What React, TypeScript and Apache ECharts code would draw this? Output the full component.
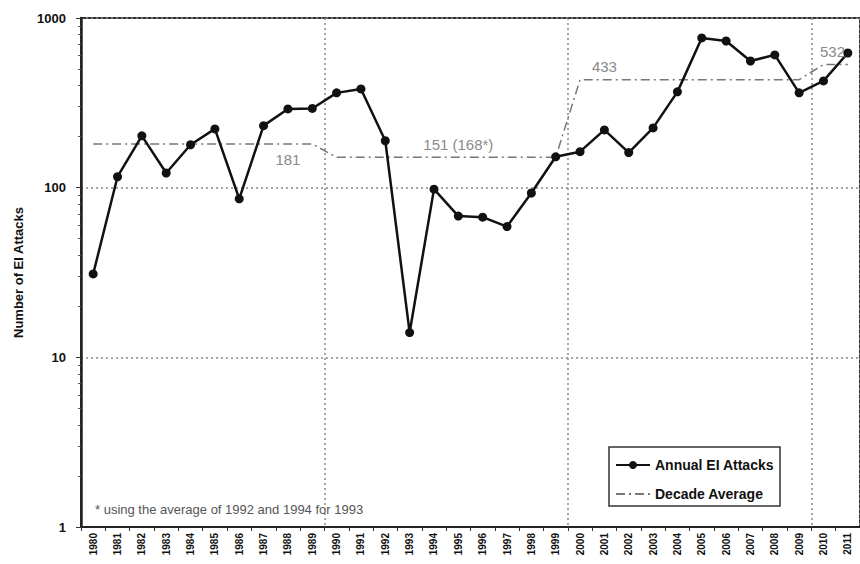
import React, { useEffect, useRef } from 'react';
import * as echarts from 'echarts';

const years = [
  '1980', '1981', '1982', '1983', '1984', '1985', '1986', '1987', '1988', '1989',
  '1990', '1991', '1992', '1993', '1994', '1995', '1996', '1997', '1998', '1999',
  '2000', '2001', '2002', '2003', '2004', '2005', '2006', '2007', '2008', '2009',
  '2010', '2011',
];
const annualAttacks = [
  31, 116, 202, 122, 179, 222, 86, 232, 291, 293,
  362, 382, 189, 14, 98, 68, 67, 59, 93, 152,
  163, 219, 161, 225, 367, 763, 732, 558, 606, 362,
  426, 622,
];
const decadeStartYears = [1980, 1990, 2000, 2010];
const decadeAverages = [181, 151, 433, 532];
const decadeLabelTexts = ['181', '151 (168*)', '433', '532'];
const decadeLabelYears = ['1988', '1995', '2001', '2010'];
const footnote = '* using the average of 1992 and 1994 for 1993';

const FONT = '"Liberation Sans", Arial, Helvetica, sans-serif';

export default function App() {
  const ref = useRef<HTMLDivElement>(null);
  useEffect(() => {
    const chart = echarts.init(ref.current!, null, { renderer: 'svg' });
    const decadeData = years.map((y) => {
      const yr = Number(y);
      let idx = 0;
      decadeStartYears.forEach((s, i) => {
        if (yr >= s) idx = i;
      });
      return decadeAverages[idx];
    });
    const labelPoints = decadeLabelTexts.map((t, li) => {
      const below = li === 0;
      return {
        coord: [decadeLabelYears[li], decadeAverages[li]],
        symbol: 'circle',
        symbolSize: 1,
        itemStyle: { color: 'rgba(0,0,0,0)' },
        label: {
          show: true,
          formatter: t,
          position: below ? 'bottom' : 'top',
          distance: below ? 8 : 5,
          offset: li === 3 ? [9, 0] : [0, 0],
          color: '#8a8a8a',
          fontSize: 15,
          fontFamily: FONT,
        },
      };
    });

    chart.setOption({
      animation: false,
      textStyle: { fontFamily: FONT },
      grid: {
        left: 81,
        top: 18,
        width: 783,
        height: 509,
        show: true,
        borderColor: '#333',
        borderWidth: 2,
        backgroundColor: 'transparent',
      },
      legend: {
        left: 609,
        top: 447,
        orient: 'vertical',
        padding: [11, 6, 5, 6],
        itemGap: 15,
        itemWidth: 34,
        itemHeight: 10,
        borderColor: '#333',
        borderWidth: 1.5,
        backgroundColor: '#fff',
        textStyle: { fontSize: 14, fontWeight: 'bold', color: '#111', fontFamily: FONT },
        data: [
          { name: 'Annual EI Attacks' },
          { name: 'Decade Average', itemStyle: { opacity: 0 } },
        ],
      },
      graphic: [
        {
          type: 'text',
          left: 95,
          top: 503,
          style: { text: footnote, fontSize: 13, fill: '#555', fontFamily: FONT },
        },
      ],
      xAxis: {
        type: 'category',
        data: years,
        boundaryGap: true,
        axisLine: { lineStyle: { color: '#222', width: 2 } },
        axisTick: { show: true, interval: 0, length: 4, lineStyle: { color: '#333' } },
        axisLabel: {
          interval: 0,
          rotate: 90,
          fontSize: 10,
          fontWeight: 'bold',
          color: '#111',
          margin: 6,
        },
        splitLine: {
          show: true,
          interval: (index: number) => index > 0 && index % 10 === 0,
          lineStyle: { color: '#888', type: [2, 3], width: 1.5 },
        },
      },
      yAxis: {
        type: 'log',
        logBase: 10,
        min: 1,
        max: 1000,
        name: 'Number of EI Attacks',
        nameLocation: 'middle',
        nameGap: 56,
        nameTextStyle: { fontSize: 13, fontWeight: 'bold', color: '#111' },
        axisLine: { show: true, lineStyle: { color: '#222', width: 2.5 } },
        axisTick: { show: true, length: 5, lineStyle: { color: '#333' } },
        minorTick: { show: true, splitNumber: 9, length: 3, lineStyle: { color: '#555' } },
        axisLabel: {
          fontSize: 13,
          fontWeight: 'bold',
          color: '#111',
          margin: 15,
          formatter: (v: number) => String(Math.round(v)),
        },
        splitLine: {
          show: true,
          lineStyle: { color: '#888', type: [2, 3], width: 1.5 },
        },
      },
      series: [
        {
          name: 'Decade Average',
          type: 'line',
          data: decadeData,
          showSymbol: false,
          symbol: 'none',
          lineStyle: { color: '#777', width: 1.5, type: [9, 4, 2, 4] },
          itemStyle: { color: '#777' },
          markPoint: { silent: true, data: labelPoints },
          z: 2,
        },
        {
          name: 'Annual EI Attacks',
          type: 'line',
          data: annualAttacks,
          symbol: 'circle',
          symbolSize: 9,
          lineStyle: { color: '#111', width: 2.5 },
          itemStyle: { color: '#111' },
          z: 3,
        },
      ],
    });
    return () => chart.dispose();
  }, []);
  return (
    <div
      ref={ref}
      style={{ position: 'fixed', left: 0, top: 0, width: 860, height: 564, background: '#fff' }}
    />
  );
}
